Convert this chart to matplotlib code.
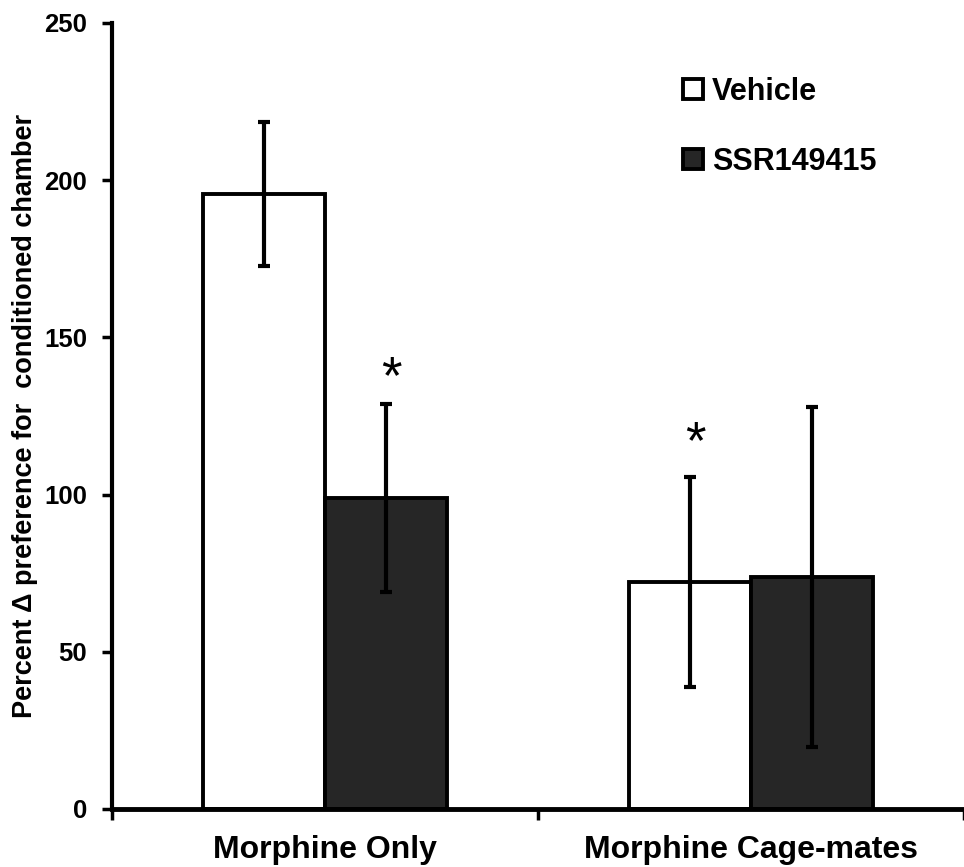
import matplotlib
matplotlib.use("Agg")
import matplotlib.pyplot as plt
import numpy as np

# values
groups = ["Morphine Only", "Morphine Cage-mates"]
treatments = ["Vehicle", "SSR149415"]
vehicle_mean = [195.6, 72.2]
vehicle_err = [22.9, 33.4]
ssr_mean = [98.9, 73.8]
ssr_err = [29.8, 54.0]
y_ticks = [0, 50, 100, 150, 200, 250]
# asterisks: (group index, bar offset sign, height)
stars = [(0, 1, 136.8), (1, -1, 116.1)]

plt.rcParams['font.family'] = ['Liberation Sans', 'DejaVu Sans']
plt.rcParams['font.weight'] = 'bold'

fig = plt.figure(figsize=(9.64, 8.67), dpi=100)
ax = fig.add_axes([112/964, 1 - 809/867, (964 - 112)/964, (809 - 23)/867])

x = np.arange(len(groups))
w = 0.286
lw = 2.8
err_kw = dict(ecolor='black', elinewidth=3, capsize=4.4, capthick=3)

b1 = ax.bar(x - w/2, vehicle_mean, w, yerr=vehicle_err, color='white',
            edgecolor='black', linewidth=lw, error_kw=err_kw, label=treatments[0], zorder=2)
b2 = ax.bar(x + w/2, ssr_mean, w, yerr=ssr_err, color='#262626',
            edgecolor='black', linewidth=lw, error_kw=err_kw, label=treatments[1], zorder=2)

for gi, side, h in stars:
    ax.text(x[gi] + side * w/2 + 0.012, h, '*', ha='center', va='center', fontsize=38,
            fontweight='normal')

ax.set_xlim(-0.5, 1.5)
ax.set_ylim(0, 250)
ax.set_yticks(y_ticks)
ax.tick_params(axis='y', direction='out', length=7, width=2.5, labelsize=18.5, pad=11)

ax.set_xticks(x)
ax.set_xticklabels(groups, fontsize=23, fontweight='bold')
ax.tick_params(axis='x', which='major', length=0, pad=19)
ax.set_xticks([-0.5, 0.5, 1.5], minor=True)
ax.tick_params(axis='x', which='minor', direction='out', length=8, width=2.5)

for s in ['top', 'right']:
    ax.spines[s].set_visible(False)
ax.spines['left'].set_linewidth(3)
ax.spines['bottom'].set_linewidth(3.5)

ax.set_ylabel("Percent \u0394 preference for  conditioned chamber", fontsize=19.5, fontweight='bold')
ax.yaxis.set_label_coords(-0.087, 0.5)

leg = ax.legend(handles=[b1, b2], loc='upper left', bbox_to_anchor=(683/964, 1 - 77/867),
                bbox_transform=fig.transFigure, frameon=False, fontsize=22,
                handlelength=0.65, handleheight=0.65, handletextpad=0.3,
                labelspacing=1.3, borderpad=0, borderaxespad=0)

fig.savefig("out.png", dpi=100)
